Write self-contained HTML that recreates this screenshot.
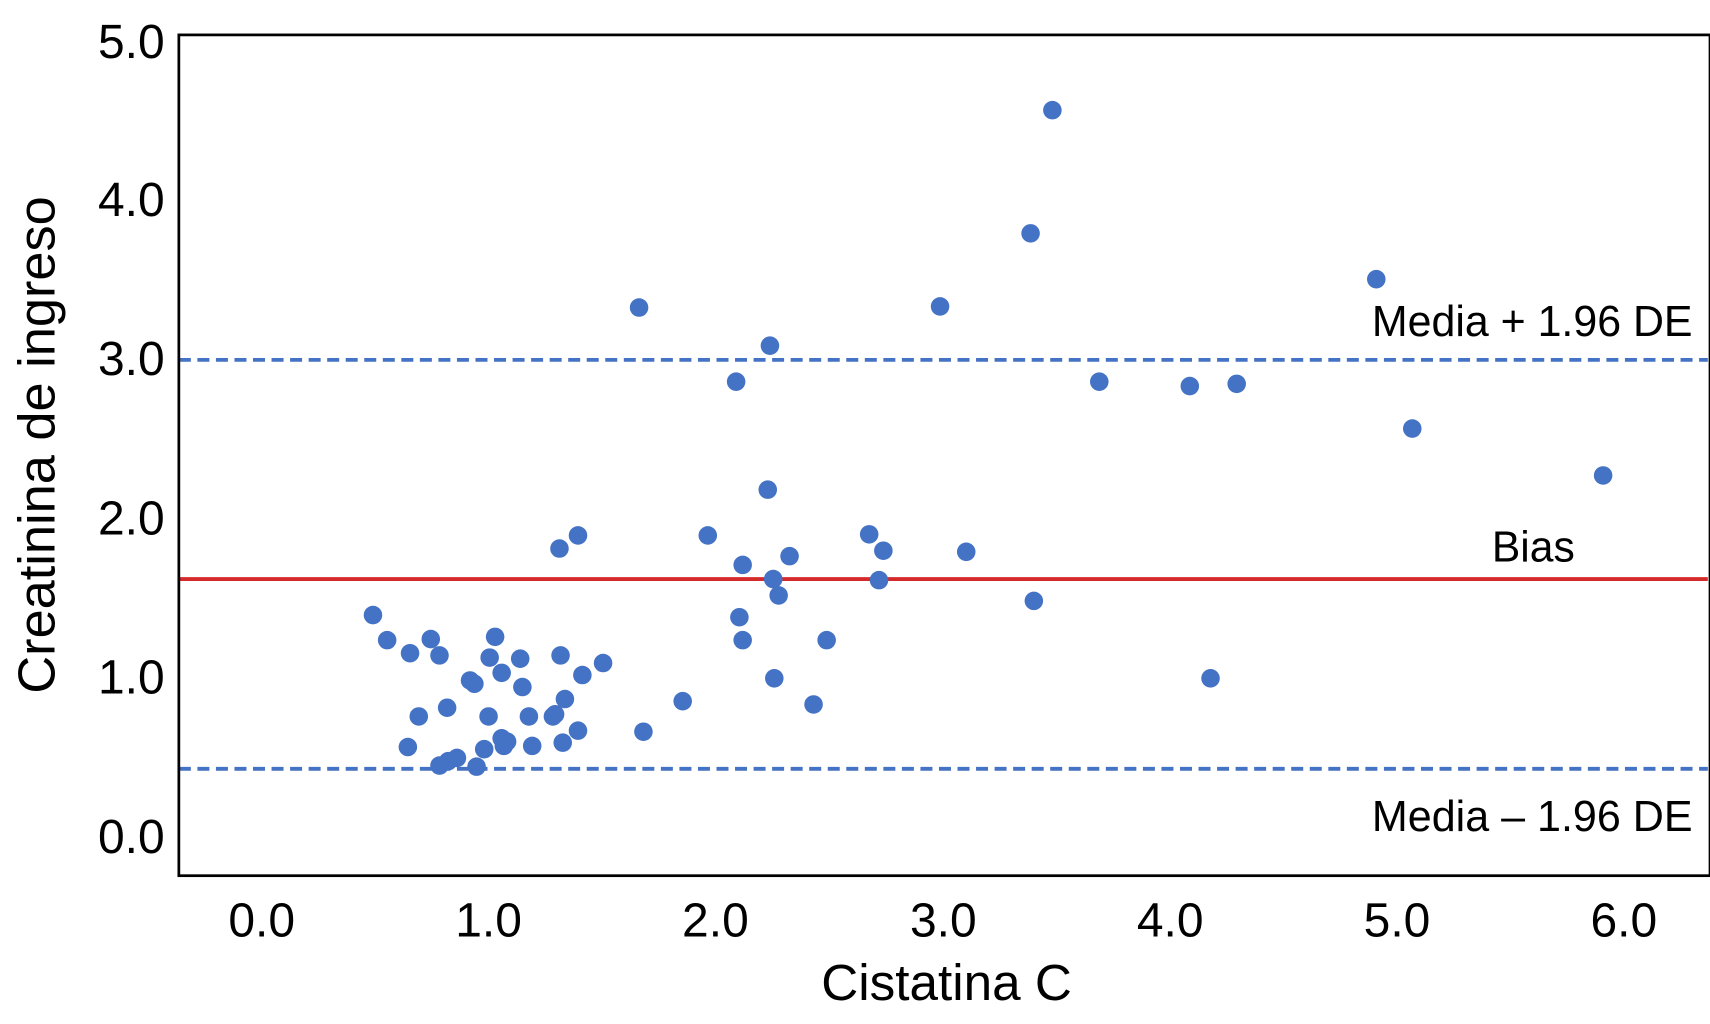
<!DOCTYPE html>
<html><head><meta charset="utf-8"><style>html,body{margin:0;padding:0;background:#fff}svg{display:block}</style></head>
<body>
<svg width="1710" height="1024" viewBox="0 0 1568 939" preserveAspectRatio="none" xmlns="http://www.w3.org/2000/svg">
<rect x="0" y="0" width="1568" height="939" fill="#fff"/>
<line x1="164" y1="330" x2="1566" y2="330" stroke="#4472c4" stroke-width="3.5" stroke-dasharray="11,6"/>
<line x1="164" y1="705" x2="1566" y2="705" stroke="#4472c4" stroke-width="3.5" stroke-dasharray="11,6"/>
<line x1="164" y1="531" x2="1566" y2="531" stroke="#d42a2a" stroke-width="3.5"/>
<rect x="164" y="32" width="1404" height="771" fill="none" stroke="#000" stroke-width="2.5"/>
<g fill="#4472c4">
<circle cx="342" cy="564" r="8.5"/><circle cx="355" cy="587" r="8.5"/><circle cx="376" cy="599" r="8.5"/><circle cx="395" cy="586" r="8.5"/><circle cx="403" cy="601" r="8.5"/><circle cx="384" cy="657" r="8.5"/><circle cx="410" cy="649" r="8.5"/><circle cx="374" cy="685" r="8.5"/><circle cx="403" cy="702" r="8.5"/><circle cx="411" cy="698" r="8.5"/><circle cx="419" cy="695" r="8.5"/><circle cx="437" cy="703" r="8.5"/><circle cx="444" cy="687" r="8.5"/><circle cx="431" cy="624" r="8.5"/><circle cx="435" cy="627" r="8.5"/><circle cx="449" cy="603" r="8.5"/><circle cx="454" cy="584" r="8.5"/><circle cx="460" cy="617" r="8.5"/><circle cx="477" cy="604" r="8.5"/><circle cx="479" cy="630" r="8.5"/><circle cx="448" cy="657" r="8.5"/><circle cx="485" cy="657" r="8.5"/><circle cx="460" cy="677" r="8.5"/><circle cx="465" cy="680" r="8.5"/><circle cx="462" cy="684" r="8.5"/><circle cx="488" cy="684" r="8.5"/><circle cx="507" cy="657" r="8.5"/><circle cx="509" cy="655" r="8.5"/><circle cx="514" cy="601" r="8.5"/><circle cx="518" cy="641" r="8.5"/><circle cx="516" cy="681" r="8.5"/><circle cx="530" cy="670" r="8.5"/><circle cx="534" cy="619" r="8.5"/><circle cx="553" cy="608" r="8.5"/><circle cx="513" cy="503" r="8.5"/><circle cx="530" cy="491" r="8.5"/><circle cx="586" cy="282" r="8.5"/><circle cx="590" cy="671" r="8.5"/><circle cx="626" cy="643" r="8.5"/><circle cx="649" cy="491" r="8.5"/><circle cx="675" cy="350" r="8.5"/><circle cx="678" cy="566" r="8.5"/><circle cx="681" cy="518" r="8.5"/><circle cx="681" cy="587" r="8.5"/><circle cx="704" cy="449" r="8.5"/><circle cx="706" cy="317" r="8.5"/><circle cx="709" cy="531" r="8.5"/><circle cx="714" cy="546" r="8.5"/><circle cx="710" cy="622" r="8.5"/><circle cx="724" cy="510" r="8.5"/><circle cx="746" cy="646" r="8.5"/><circle cx="758" cy="587" r="8.5"/><circle cx="797" cy="490" r="8.5"/><circle cx="806" cy="532" r="8.5"/><circle cx="810" cy="505" r="8.5"/><circle cx="862" cy="281" r="8.5"/><circle cx="886" cy="506" r="8.5"/><circle cx="945" cy="214" r="8.5"/><circle cx="948" cy="551" r="8.5"/><circle cx="965" cy="101" r="8.5"/><circle cx="1008" cy="350" r="8.5"/><circle cx="1091" cy="354" r="8.5"/><circle cx="1134" cy="352" r="8.5"/><circle cx="1110" cy="622" r="8.5"/><circle cx="1262" cy="256" r="8.5"/><circle cx="1295" cy="393" r="8.5"/><circle cx="1470" cy="436" r="8.5"/>
</g>
<g font-family="Liberation Sans, sans-serif" font-size="44" fill="#000" text-anchor="end">
<text x="151" y="53">5.0</text><text x="151" y="198">4.0</text><text x="151" y="344">3.0</text><text x="151" y="490">2.0</text><text x="151" y="636">1.0</text><text x="151" y="782">0.0</text>
</g>
<g font-family="Liberation Sans, sans-serif" font-size="44" fill="#000" text-anchor="middle">
<text x="240" y="859">0.0</text><text x="448" y="859">1.0</text><text x="656" y="859">2.0</text><text x="865" y="859">3.0</text><text x="1073" y="859">4.0</text><text x="1281" y="859">5.0</text><text x="1489" y="859">6.0</text>
<text x="868" y="917" font-size="47">Cistatina C</text>
<text transform="translate(50,408) rotate(-90)" font-size="48">Creatinina de ingreso</text>
</g>
<g font-family="Liberation Sans Narrow, Liberation Sans, sans-serif" font-size="40" fill="#000">
<text x="1258" y="308" textLength="294" lengthAdjust="spacingAndGlyphs">Media + 1.96 DE</text>
<text x="1368" y="515" textLength="76" lengthAdjust="spacingAndGlyphs">Bias</text>
<text x="1258" y="762" textLength="294" lengthAdjust="spacingAndGlyphs">Media – 1.96 DE</text>
</g>
</svg>
</body></html>
